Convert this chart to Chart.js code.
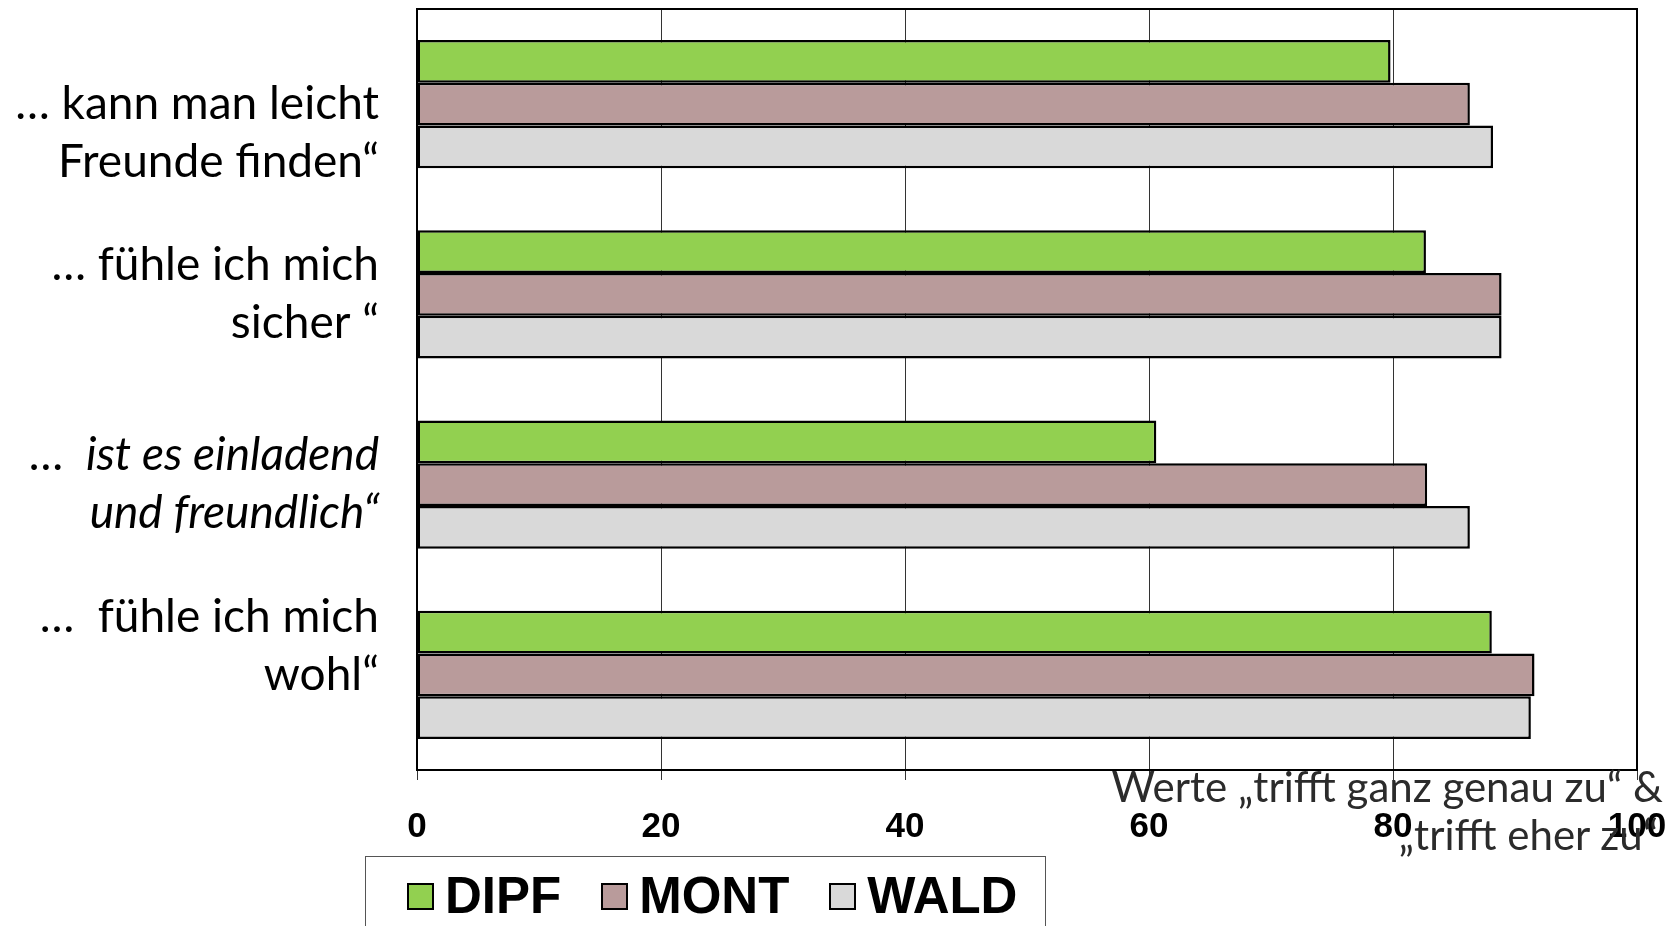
<!DOCTYPE html>
<html>
<head>
<meta charset="utf-8">
<script src="https://cdn.jsdelivr.net/npm/chart.js@4/dist/chart.umd.min.js"></script>
<style>
    body { margin: 0; background: #fff; }
    #wrap { position: relative; width: 1677px; height: 926px; overflow: hidden; }
    #legend {
        position: absolute; left: 365px; top: 856px; width: 681px; height: 90px;
        border: 1px solid #555; box-sizing: border-box;
        display: flex; align-items: flex-start; padding: 11px 0 0 41px;
        font-family: "Liberation Sans", Arial, sans-serif; font-weight: bold; font-size: 51px;
        line-height: 56px;
    }
    #legend .item { display: flex; align-items: center; margin-right: 40px; }
    #legend .box { width: 27px; height: 27px; border: 2px solid #000; box-sizing: border-box; margin-right: 11px; }
    #note {
        position: absolute; right: 14px; top: 762px; text-align: right;
        font-family: Lato, sans-serif; font-size: 42px; line-height: 48px; color: #2b2b2b;
    }
</style>
</head>
<body>
<div id="wrap">
    <canvas id="chart" width="1677" height="926"></canvas>
    <div id="legend"></div>
    <div id="note"><div>Werte „trifft ganz genau zu“ &amp;</div><div style="padding-right:5px">„trifft eher zu“</div></div>
</div>
<script>
const categories = [
    ['… kann man leicht', 'Freunde finden“'],
    ['… fühle ich mich', 'sicher “'],
    ['…  ist es einladend', 'und freundlich“'],
    ['…  fühle ich mich', 'wohl“'],
];
const seriesNames = ['DIPF', 'MONT', 'WALD'];
const seriesColors = ['#92D050', '#B99B9B', '#D9D9D9'];
const dipfValues = [79.8, 82.7, 60.6, 88.1];
const montValues = [86.3, 88.9, 82.8, 91.6];
const waldValues = [88.2, 88.9, 86.3, 91.3];
const xTicks = [0, 20, 40, 60, 80, 100];

function getData() {
    const values = [dipfValues, montValues, waldValues];
    return {
        labels: categories,
        datasets: seriesNames.map((name, i) => ({
            label: name,
            data: values[i],
            backgroundColor: seriesColors[i],
            borderColor: '#000',
            borderWidth: 2.5,
            borderSkipped: false,
            categoryPercentage: 0.673,
            barPercentage: 1,
        })),
    };
}

// draws the closed box round the plot area
const framePlugin = {
    id: 'frame',
    afterDraw(chart) {
        const a = chart.chartArea;
        const ctx = chart.ctx;
        ctx.save();
        ctx.strokeStyle = '#000';
        ctx.lineWidth = 2;
        ctx.strokeRect(a.left, a.top, a.right - a.left, a.bottom - a.top);
        ctx.restore();
    }
};

function getConfig(data) {
    return {
        type: 'bar',
        data: data,
        plugins: [framePlugin],
        options: {
            indexAxis: 'y',
            responsive: false,
            animation: false,
            layout: { padding: { top: 9, right: 40, left: 0, bottom: 0 } },
            plugins: {
                legend: { display: false },
                tooltip: { enabled: false },
            },
            scales: {
                x: {
                    type: 'linear',
                    min: 0,
                    max: 100,
                    afterBuildTicks: (scale) => {
                        scale.ticks = xTicks.map(v => ({ value: v }));
                    },
                    afterFit: (scale) => {
                        scale.height = 156;
                        scale.paddingLeft = 0;
                        scale.paddingRight = 0;
                    },
                    grid: {
                        color: '#333',
                        lineWidth: 1,
                        drawTicks: true,
                        tickLength: 10,
                    },
                    border: { display: true, color: '#000', width: 2 },
                    ticks: {
                        padding: 26,
                        color: '#000',
                        maxRotation: 0,
                        font: { family: '"Liberation Sans", Arial', size: 35, weight: 'bold' },
                    },
                },
                y: {
                    afterFit: (scale) => {
                        scale.width = 417;
                        scale.paddingTop = 0;
                        scale.paddingBottom = 0;
                    },
                    grid: { display: false },
                    border: { display: true, color: '#000', width: 2 },
                    ticks: {
                        autoSkip: false,
                        padding: 30,
                        color: '#000',
                        font: (ctx) => ({
                            family: 'Lato',
                            size: 46,
                            lineHeight: 58 / 46,
                            style: ctx.index === 2 ? 'italic' : 'normal',
                        }),
                        // the first label sits a little low and the last a little high in the original
                        callback: function (value, index) {
                            const lines = categories[index];
                            if (index === 0) return [''].concat(lines);
                            if (index === categories.length - 1) return lines.concat(['']);
                            return lines;
                        },
                    },
                },
            },
        },
    };
}

function drawLegend() {
    const el = document.getElementById('legend');
    seriesNames.forEach((name, i) => {
        const item = document.createElement('div');
        item.className = 'item';
        const box = document.createElement('span');
        box.className = 'box';
        box.style.background = seriesColors[i];
        const txt = document.createElement('span');
        txt.textContent = name;
        item.appendChild(box);
        item.appendChild(txt);
        el.appendChild(item);
    });
}

drawLegend();
new Chart(document.getElementById('chart'), getConfig(getData()));
</script>
</body>
</html>
